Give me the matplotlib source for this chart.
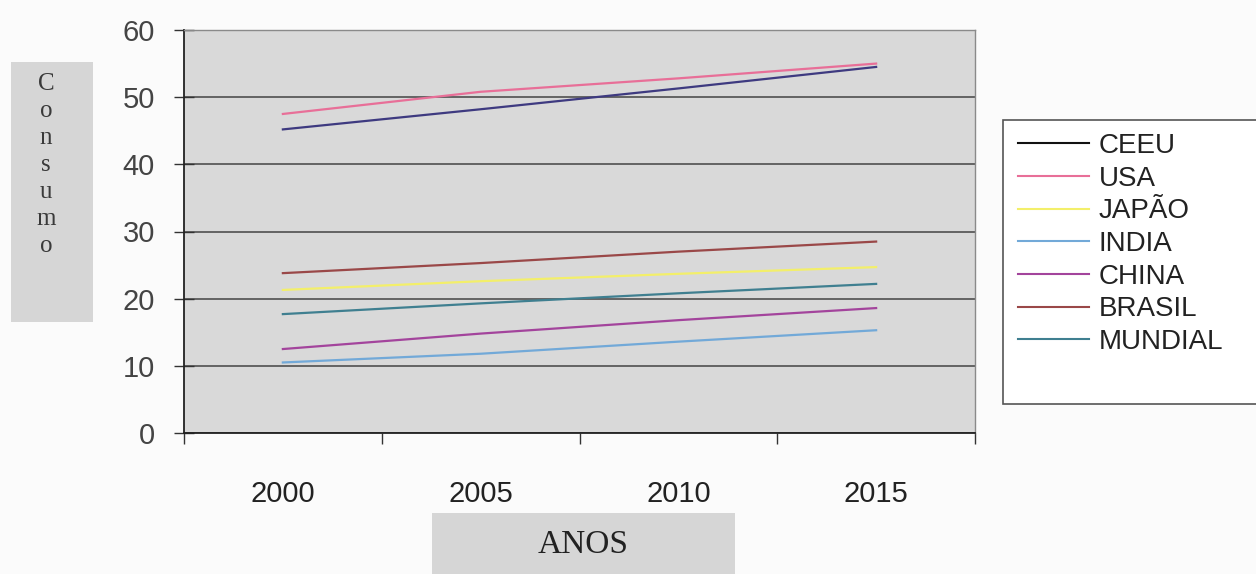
import numpy as np
import matplotlib.pyplot as plt
from matplotlib.patches import Rectangle
from matplotlib.lines import Line2D

# ============================================
# region 1. Data
anos = ['2000', '2005', '2010', '2015']
paises = ['CEEU', 'USA', 'JAPÃO', 'INDIA', 'CHINA', 'BRASIL', 'MUNDIAL']

ceeu = [45.2, 48.2, 51.3, 54.5]
usa = [47.5, 50.8, 52.8, 55.0]
japao = [21.3, 22.6, 23.7, 24.7]
india = [10.5, 11.8, 13.6, 15.3]
china = [12.5, 14.8, 16.8, 18.6]
brasil = [23.8, 25.3, 27.0, 28.5]
mundial = [17.7, 19.3, 20.8, 22.2]

series = [ceeu, usa, japao, india, china, brasil, mundial]
cores_linha = ['#3e3a80', '#e86f98', '#f3ef6a', '#72a9d8', '#a3449c', '#9a4848', '#3f7f90']
cores_legenda = ['#111111', '#e86f98', '#f3ef6a', '#72a9d8', '#a3449c', '#9a4848', '#3f7f90']
# endregion

# ============================================
# region 2. Figure
W, H = 1256, 574
fig = plt.figure(figsize=(W / 100, H / 100), dpi=100)
fig.patch.set_facecolor('#fbfbfb')

ax = fig.add_axes([184 / W, 1 - 433 / H, (975 - 184) / W, (433 - 30) / H])
ax.set_facecolor('#d9d9d9')

x = np.arange(len(anos))
for vals, cor in zip(series, cores_linha):
    ax.plot(x, vals, color=cor, linewidth=1.6, zorder=3)

ax.set_xlim(-0.5, len(anos) - 0.5)
ax.set_ylim(0, 60)
ax.set_yticks(range(0, 61, 10))
ax.yaxis.grid(True, color='#5a5a5a', linewidth=1.3, zorder=1)
ax.set_axisbelow(True)

# x: categories with ticks at the boundaries
ax.set_xticks(x)
ax.set_xticklabels(anos, fontsize=21, family='Liberation Sans', color='#222222')
ax.set_xticks(np.arange(-0.5, len(anos), 1.0), minor=True)
ax.tick_params(axis='x', which='major', length=0, pad=34)
ax.tick_params(axis='x', which='minor', length=8, width=1, direction='out', color='#333333')

ax.tick_params(axis='y', length=14, width=1, direction='inout', pad=14, colors='#333333')
for lbl in ax.get_yticklabels():
    lbl.set_fontsize(21)
    lbl.set_family('Liberation Sans')
    lbl.set_color('#444444')

for s in ['left', 'bottom']:
    ax.spines[s].set_color('#222222')
    ax.spines[s].set_linewidth(1.3)
for s in ['top', 'right']:
    ax.spines[s].set_color('#8a8a8a')
    ax.spines[s].set_linewidth(1.0)
# endregion

# ============================================
# region 3. Axis title boxes
fig.patches.append(Rectangle((11 / W, 1 - 322 / H), 82 / W, 260 / H,
                             transform=fig.transFigure, facecolor='#d6d6d6',
                             edgecolor='none', zorder=0))
letras = 'Consumo'
for i, ch in enumerate(letras):
    fig.text(46 / W, 1 - (84 + i * 27) / H, ch, ha='center', va='center',
             fontsize=18, family='Liberation Serif', color='#3a3a3a')

fig.patches.append(Rectangle((432 / W, 0), 303 / W, 61 / H,
                             transform=fig.transFigure, facecolor='#d6d6d6',
                             edgecolor='none', zorder=0))
fig.text(583 / W, 1 - 545 / H, 'ANOS', ha='center', va='center',
         fontsize=24, family='Liberation Serif', color='#222222')
# endregion

# ============================================
# region 4. Legend
fig.patches.append(Rectangle((1003 / W, 1 - 404 / H), 270 / W, (404 - 120) / H,
                             transform=fig.transFigure, facecolor='white',
                             edgecolor='#555555', linewidth=1.2, zorder=0))
handles = [Line2D([], [], color=c, linewidth=1.5) for c in cores_legenda]
leg = fig.legend(handles, paises, loc='upper left',
                 bbox_to_anchor=(1018 / W, 1 - 133 / H),
                 frameon=False, handlelength=2.55, handletextpad=0.36,
                 labelspacing=0.24, borderpad=0, borderaxespad=0,
                 prop={'family': 'Liberation Sans', 'size': 20})
for t in leg.get_texts():
    t.set_color('#222222')
# endregion

fig.savefig('out.png', dpi=100, facecolor=fig.get_facecolor())
